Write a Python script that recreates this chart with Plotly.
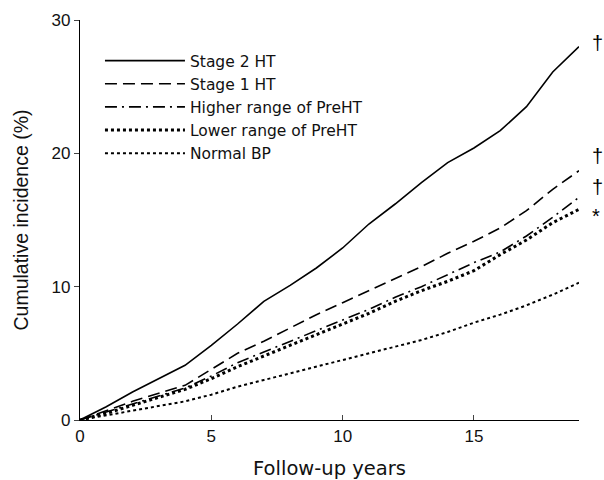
import plotly.graph_objects as go

years = list(range(0, 20))
stage2 = [0, 1.0, 2.1, 3.1, 4.1, 5.6, 7.2, 8.9, 10.1, 11.4, 12.9, 14.7, 16.2, 17.8, 19.3, 20.4, 21.7, 23.5, 26.1, 28.0]
stage1 = [0, 0.7, 1.4, 2.0, 2.6, 3.8, 5.0, 5.9, 6.9, 7.9, 8.8, 9.7, 10.6, 11.5, 12.5, 13.4, 14.4, 15.7, 17.3, 18.7]
higher_pre = [0, 0.6, 1.2, 1.8, 2.4, 3.3, 4.3, 5.1, 5.9, 6.7, 7.5, 8.3, 9.2, 10.0, 10.9, 11.8, 12.6, 13.8, 15.2, 16.7]
lower_pre = [0, 0.5, 1.1, 1.7, 2.3, 3.1, 4.0, 4.8, 5.6, 6.4, 7.2, 8.0, 8.9, 9.7, 10.4, 11.2, 12.4, 13.5, 14.8, 15.8]
normal_bp = [0, 0.35, 0.75, 1.1, 1.4, 1.9, 2.5, 3.0, 3.5, 4.0, 4.5, 5.0, 5.5, 6.0, 6.6, 7.3, 7.9, 8.6, 9.4, 10.3]

names = ["Stage 2 HT", "Stage 1 HT", "Higher range of PreHT", "Lower range of PreHT", "Normal BP"]
series = [stage2, stage1, higher_pre, lower_pre, normal_bp]
dashes = ["solid", "12px,6px", "12px,5px,2px,5px", "dot", "dot"]
widths = [1.6, 1.6, 1.6, 3.0, 2.0]
marks = ["†", "†", "†", "*", ""]
mark_offsets = [0.25, 1.1, 0.8, -0.5, 0]

fig = go.Figure()
for n, s, d, w in zip(names, series, dashes, widths):
    fig.add_trace(go.Scatter(x=years, y=s, mode="lines", name=n,
                             line=dict(color="black", width=w, dash=d)))

for s, m, off in zip(series, marks, mark_offsets):
    if m:
        fig.add_annotation(x=years[-1], y=s[-1] + off, text=m, showarrow=False,
                           xanchor="left", xshift=11,
                           font=dict(family="Liberation Sans, Arial", size=20, color="black"))

fig.update_layout(
    width=604, height=480,
    margin=dict(l=80, r=25, t=20, b=60),
    plot_bgcolor="white", paper_bgcolor="white",
    font=dict(family="DejaVu Sans, sans-serif", color="#111", size=16),
    showlegend=True,
    legend=dict(x=0.04, y=0.94, xanchor="left", yanchor="top",
                bgcolor="rgba(0,0,0,0)", font=dict(size=15.5), tracegroupgap=0,
                itemwidth=80),
    xaxis=dict(range=[0, 19], tickvals=[0, 5, 10, 15], ticks="inside", ticklen=5,
               showline=True, linecolor="black", linewidth=1.2, showgrid=False,
               zeroline=False, automargin=False,
               title=dict(text="Follow-up years", font=dict(size=19.5), standoff=16),
               tickfont=dict(family="Liberation Sans, Arial", size=17)),
    yaxis=dict(range=[0, 30], tickvals=[0, 10, 20, 30], ticks="outside", ticklen=5,
               showline=True, linecolor="black", linewidth=1.2, showgrid=False,
               zeroline=False, automargin=False,
               title=dict(text="Cumulative incidence (%)",
                          font=dict(family="Liberation Sans, Arial", size=19.5), standoff=17),
               tickfont=dict(family="Liberation Sans, Arial", size=17)),
)
fig.write_html("out.html")
